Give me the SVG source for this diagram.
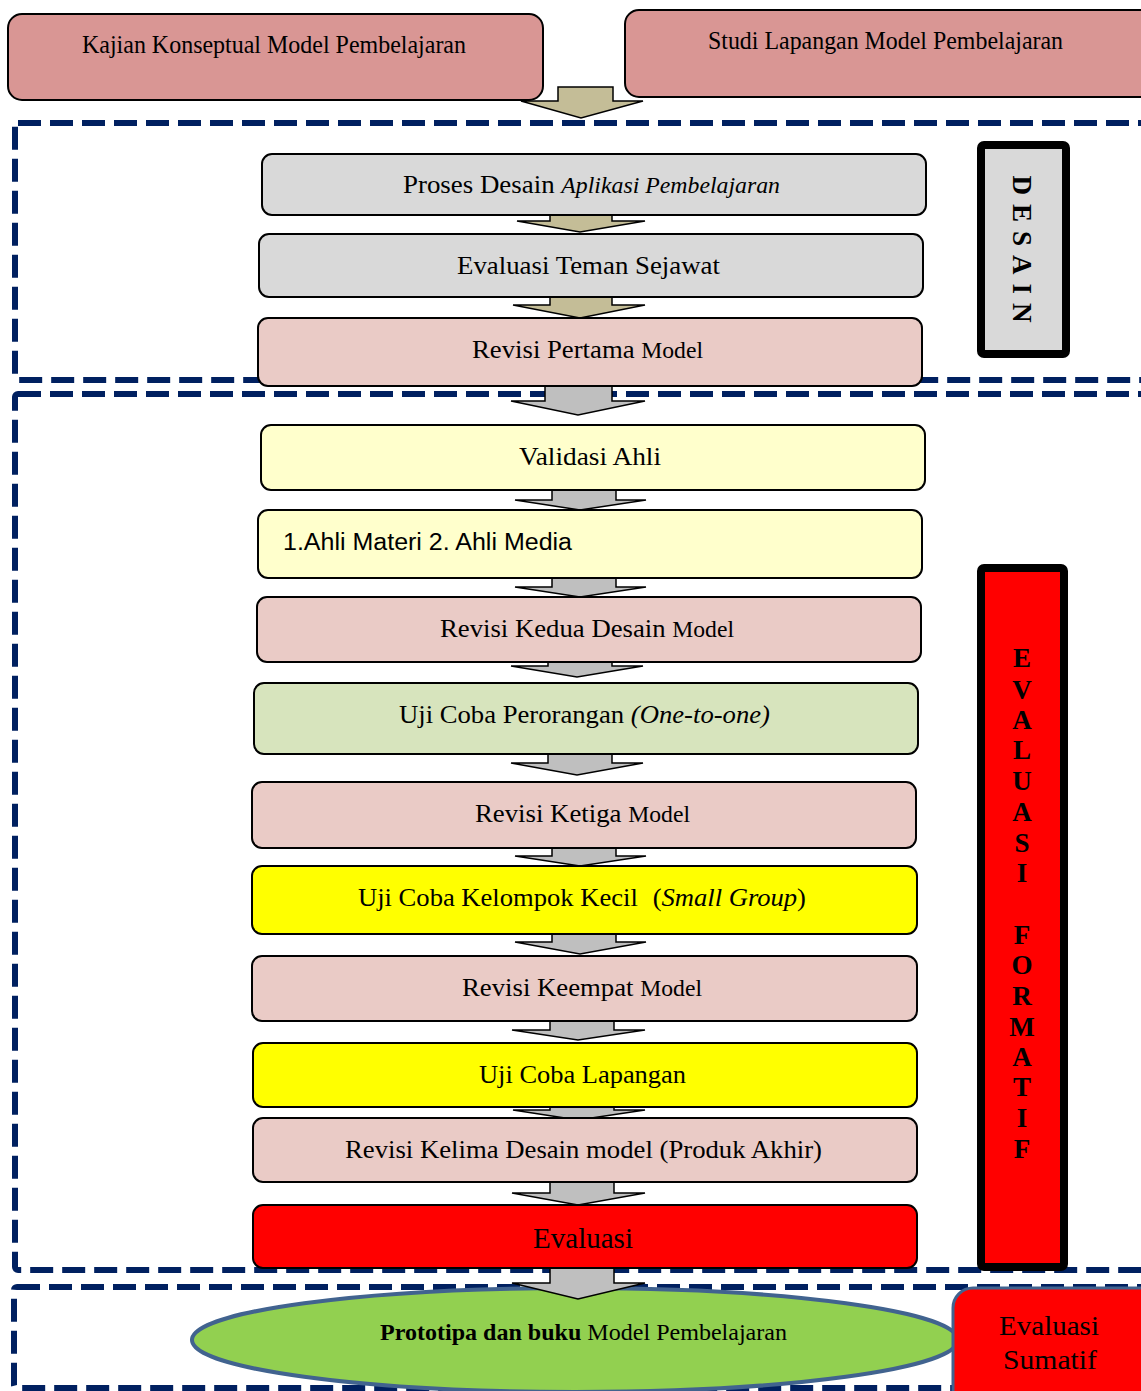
<svg xmlns="http://www.w3.org/2000/svg" width="1141" height="1391" viewBox="0 0 1141 1391">
<style>
.dash{fill:none;stroke:#002060;stroke-width:6;stroke-dasharray:23 9}
.box{stroke:#000;stroke-width:2}
.top{fill:#d99694}
.gray{fill:#d9d9d9}
.pink{fill:#eacbc6}
.lyel{fill:#ffffcc}
.lgrn{fill:#d7e4bd}
.yel{fill:#ffff00}
.red{fill:#ff0000}
.t{font-family:"Liberation Serif","Times New Roman",serif;font-size:26px;fill:#000}
.s{font-family:"Liberation Sans",Arial,sans-serif;font-size:23px;fill:#000}
.sm{font-size:23px}
.i{font-style:italic}
.b{font-weight:bold}
.side{font-family:"Liberation Serif","Times New Roman",serif;font-size:27px;font-weight:bold;fill:#000;text-anchor:middle}
.tan{fill:#c4bd97;stroke:#000;stroke-width:1.5}
.gar{fill:#bfbfbf;stroke:#000;stroke-width:1.5}
</style>
<rect width="1141" height="1391" fill="#fff"/>
<g id="frames">
<rect class="dash" x="15" y="123" width="1200" height="257" rx="3"/>
<rect class="dash" x="15" y="394" width="1200" height="876" rx="3"/>
<rect class="dash" x="14" y="1287" width="1200" height="101" rx="3"/>
</g>
<g id="prototipa">
<ellipse cx="575" cy="1340" rx="383" ry="52" fill="#92d050" stroke="#41638f" stroke-width="4"/>
<text class="t" x="380" y="1340" textLength="407" lengthAdjust="spacingAndGlyphs" style="font-size:23px"><tspan class="b">Prototipa dan buku</tspan> Model Pembelajaran</text>
</g>
<g id="connectors">
<path class="tan" d="M558 87H613V101H643L581 118L521 101H558Z"/>
<path class="tan" d="M550 215H612V221H645L580 232L517 221H550Z"/>
<path class="tan" d="M550 297H612V305H645L580 318L513 305H550Z"/>
<path class="gar" d="M545 386H612V401H645L578 415L511 401H545Z"/>
<path class="gar" d="M552 490H616V500H646L580 510L515 500H552Z"/>
<path class="gar" d="M552 578H616V587H646L580 597L515 587H552Z"/>
<path class="gar" d="M548 662H612V666H643L577 677L511 666H548Z"/>
<path class="gar" d="M548 754H612V763H643L577 775L511 763H548Z"/>
<path class="gar" d="M552 848H616V856H646L580 866L515 856H552Z"/>
<path class="gar" d="M552 934H616V942H646L580 954L515 942H552Z"/>
<path class="gar" d="M550 1021H614V1030H645L578 1040L512 1030H550Z"/>
<path class="gar" d="M550 1107H614V1110H645L578 1120L513 1110H550Z"/>
<path class="gar" d="M550 1182H614V1193H645L578 1205L512 1193H550Z"/>
<path class="gar" d="M550 1268H614V1283H645L578 1299L512 1283H550Z"/>
</g>
<g id="kajian">
<rect class="box top" x="8" y="14" width="535" height="86" rx="14"/>
<text class="t" x="82" y="53" textLength="384" lengthAdjust="spacingAndGlyphs">Kajian Konseptual Model Pembelajaran</text>
</g>
<g id="studi">
<rect class="box top" x="625" y="10" width="540" height="87" rx="14"/>
<text class="t" x="708" y="49" textLength="355" lengthAdjust="spacingAndGlyphs">Studi Lapangan Model Pembelajaran</text>
</g>
<g id="proses">
<rect class="box gray" x="262" y="154" width="664" height="61" rx="10"/>
<text class="t" x="403" y="193" textLength="377" lengthAdjust="spacingAndGlyphs">Proses Desain <tspan class="i sm">Aplikasi Pembelajaran</tspan></text>
</g>
<g id="evaluasi-teman">
<rect class="box gray" x="259" y="234" width="664" height="63" rx="10"/>
<text class="t" x="457" y="274" textLength="263" lengthAdjust="spacingAndGlyphs">Evaluasi Teman Sejawat</text>
</g>
<g id="revisi-pertama">
<rect class="box pink" x="258" y="318" width="664" height="68" rx="10"/>
<text class="t" x="472" y="358" textLength="231" lengthAdjust="spacingAndGlyphs">Revisi Pertama <tspan class="sm">Model</tspan></text>
</g>
<g id="validasi">
<rect class="box lyel" x="261" y="425" width="664" height="65" rx="10"/>
<text class="t" x="519" y="465" textLength="142" lengthAdjust="spacingAndGlyphs">Validasi Ahli</text>
</g>
<g id="ahli">
<rect class="box lyel" x="258" y="510" width="664" height="68" rx="10"/>
<text class="s" x="283" y="550" textLength="289" lengthAdjust="spacingAndGlyphs">1.Ahli Materi 2. Ahli Media</text>
</g>
<g id="revisi-kedua">
<rect class="box pink" x="257" y="597" width="664" height="65" rx="10"/>
<text class="t" x="440" y="637" textLength="294" lengthAdjust="spacingAndGlyphs">Revisi Kedua Desain <tspan class="sm">Model</tspan></text>
</g>
<g id="perorangan">
<rect class="box lgrn" x="254" y="683" width="664" height="71" rx="10"/>
<text class="t" x="399" y="723" textLength="371" lengthAdjust="spacingAndGlyphs">Uji Coba Perorangan <tspan class="i">(One-to-one)</tspan></text>
</g>
<g id="revisi-ketiga">
<rect class="box pink" x="252" y="782" width="664" height="66" rx="10"/>
<text class="t" x="475" y="822" textLength="215" lengthAdjust="spacingAndGlyphs">Revisi Ketiga <tspan class="sm">Model</tspan></text>
</g>
<g id="kelompok">
<rect class="box yel" x="252" y="866" width="665" height="68" rx="10"/>
<text class="t" x="358" y="906" textLength="448" lengthAdjust="spacingAndGlyphs">Uji Coba Kelompok Kecil <tspan dx="8">(</tspan><tspan class="i">Small Group</tspan>)</text>
</g>
<g id="revisi-keempat">
<rect class="box pink" x="252" y="956" width="665" height="65" rx="10"/>
<text class="t" x="462" y="996" textLength="240" lengthAdjust="spacingAndGlyphs">Revisi Keempat <tspan class="sm">Model</tspan></text>
</g>
<g id="lapangan">
<rect class="box yel" x="253" y="1043" width="664" height="64" rx="10"/>
<text class="t" x="479" y="1083" textLength="207" lengthAdjust="spacingAndGlyphs">Uji Coba Lapangan</text>
</g>
<g id="revisi-kelima">
<rect class="box pink" x="253" y="1118" width="664" height="64" rx="10"/>
<text class="t" x="345" y="1158" textLength="477" lengthAdjust="spacingAndGlyphs">Revisi Kelima Desain model (Produk Akhir)</text>
</g>
<g id="evaluasi">
<rect class="box red" x="253" y="1205" width="664" height="63" rx="10"/>
<text class="t" x="533" y="1248" textLength="100" lengthAdjust="spacingAndGlyphs" style="font-size:30px">Evaluasi</text>
</g>
<g id="sumatif">
<rect x="953" y="1288" width="220" height="130" rx="20" fill="#ff0000" stroke="#41638f" stroke-width="3"/>
<text class="t" x="999" y="1335" textLength="100" lengthAdjust="spacingAndGlyphs" style="font-size:28px">Evaluasi</text>
<text class="t" x="1003" y="1369" textLength="94" lengthAdjust="spacingAndGlyphs" style="font-size:28px">Sumatif</text>
</g>
<g id="desain">
<rect x="981" y="145" width="85" height="209" rx="3" fill="#d9d9d9" stroke="#000" stroke-width="8"/>
<text class="side" transform="translate(1013 249) rotate(90)" textLength="147" lengthAdjust="spacing">DESAIN</text>
</g>
<g id="formatif">
<rect x="981" y="568" width="83" height="699" rx="3" fill="#ff0000" stroke="#000" stroke-width="8"/>
<text class="side" x="1022" y="667">E</text>
<text class="side" x="1022" y="699">V</text>
<text class="side" x="1022" y="729">A</text>
<text class="side" x="1022" y="759">L</text>
<text class="side" x="1022" y="790">U</text>
<text class="side" x="1022" y="821">A</text>
<text class="side" x="1022" y="852">S</text>
<text class="side" x="1022" y="882">I</text>
<text class="side" x="1022" y="944">F</text>
<text class="side" x="1022" y="974">O</text>
<text class="side" x="1022" y="1005">R</text>
<text class="side" x="1022" y="1036">M</text>
<text class="side" x="1022" y="1066">A</text>
<text class="side" x="1022" y="1096">T</text>
<text class="side" x="1022" y="1127">I</text>
<text class="side" x="1022" y="1158">F</text>
</g>
</svg>
